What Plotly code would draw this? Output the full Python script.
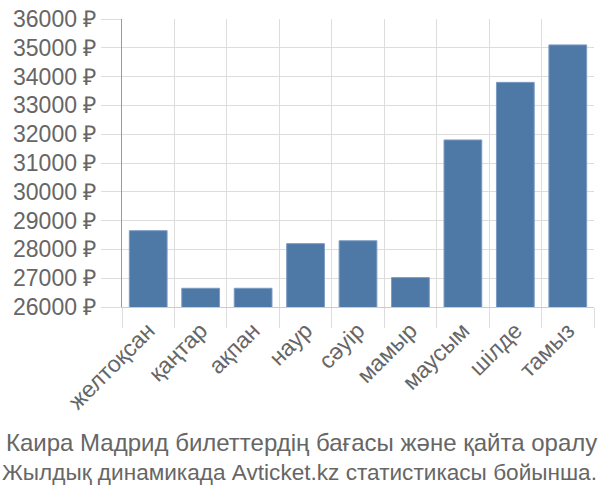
import plotly.graph_objects as go

months = ["желтоқсан", "қаңтар", "ақпан", "наур", "сәуір", "мамыр", "маусым", "шілде", "тамыз"]
prices = [28650, 26650, 26650, 28200, 28300, 27020, 31800, 33800, 35100]
y_ticks = [26000, 27000, 28000, 29000, 30000, 31000, 32000, 33000, 34000, 35000, 36000]
title_lines = ["Каира Мадрид билеттердің бағасы және қайта оралу",
               "Жылдық динамикада Avticket.kz статистикасы бойынша."]

FONT = "Liberation Sans, Arial, sans-serif"
TXT = "#666666"
GRID = "#dddddd"

W, H = 600, 500
L, R, T, B = 122, 6, 14, 193

fig = go.Figure(go.Bar(
    x=months, y=prices,
    marker=dict(color="#4e78a6", line=dict(color="#7d9bc2", width=1)),
    width=0.72,
))

plot_w = W - L - R
plot_h = H - T - B

def px_to_paper(xp, yp):
    return (xp - L) / plot_w, (H - B - yp) / plot_h

ax0, ay0 = px_to_paper(301, 445)
ax1, ay1 = px_to_paper(299, 475)

fig.update_layout(
    width=W, height=H,
    margin=dict(l=L, r=R, t=T, b=B),
    paper_bgcolor="white", plot_bgcolor="white",
    font=dict(family=FONT, color=TXT, size=22),
    showlegend=False,
    xaxis=dict(
        tickangle=-45, tickson="boundaries", showgrid=True, gridcolor=GRID, gridwidth=1,
        ticks="outside", ticklen=20, tickcolor=GRID, showline=True, linecolor="#cccccc",
        tickfont=dict(size=23, color=TXT, family=FONT),
    ),
    yaxis=dict(
        range=[26000, 36000], tickvals=y_ticks, ticktext=[f"{v} ₽" for v in y_ticks],
        showgrid=True, gridcolor=GRID, gridwidth=1, ticks="outside", ticklen=20,
        tickcolor=GRID, showline=True, linecolor="#999999", zeroline=False,
        tickfont=dict(size=23, color=TXT, family=FONT),
    ),
    annotations=[
        dict(text=title_lines[0], x=ax0, y=ay0, xref="paper", yref="paper",
             xanchor="center", yanchor="middle",
             showarrow=False, font=dict(size=24, color=TXT, family=FONT)),
        dict(text=title_lines[1], x=ax1, y=ay1, xref="paper", yref="paper",
             xanchor="center", yanchor="middle",
             showarrow=False, font=dict(size=22.6, color=TXT, family=FONT)),
    ],
)

fig.write_html("out.html")
